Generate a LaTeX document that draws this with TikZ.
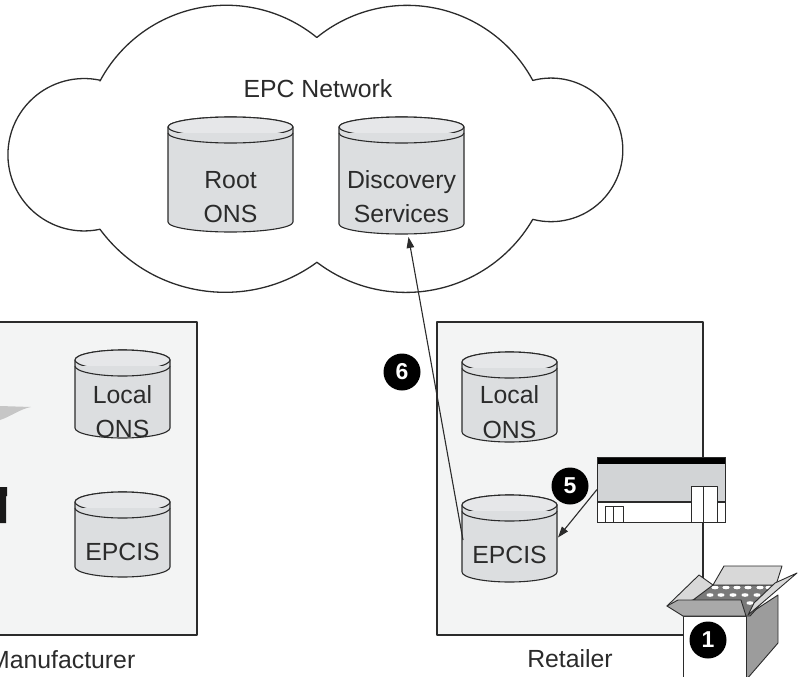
\documentclass[tikz,border=0pt]{standalone}
\usepackage{fontspec}
\setmainfont{Liberation Sans}
\usetikzlibrary{arrows.meta,calc}

\definecolor{ink}{HTML}{2B2B2B}
\definecolor{cylbody}{HTML}{DCDEE0}
\definecolor{cyltop}{HTML}{E6E7E9}
\definecolor{panel}{HTML}{F3F4F4}
\definecolor{flapA}{HTML}{D8D8D8}
\definecolor{flapB}{HTML}{A9A9A9}
\definecolor{sidegray}{HTML}{9C9C9C}
\definecolor{holegray}{HTML}{7A7A7A}
\definecolor{storegray}{HTML}{D2D4D6}
\definecolor{swooshgray}{HTML}{C6C6C6}

% database cylinder: #1 name, #2 left, #3 top, #4 right, #5 bottom
\newcommand\dbcyl[5]{%
  \pgfmathsetmacro\cylcx{(#2+#4)/2}%
  \pgfmathsetmacro\cylrx{(#4-#2)/2}%
  \pgfmathsetmacro\cylty{#3+10}%
  \pgfmathsetmacro\cylby{#5-10}%
  \pgfmathsetmacro\cylrim{#3+16}%
  \pgfmathsetmacro\cylcy{(#3+#5)/2}%
  \pgfmathsetmacro\cylw{#4-#2}%
  \pgfmathsetmacro\cylh{#5-#3}%
  \filldraw[cyl] (#2,\cylty) -- (#2,\cylby)
    arc[start angle=180,end angle=0,x radius=\cylrx,y radius=10]
    -- (#4,\cylty)
    arc[start angle=0,end angle=-180,x radius=\cylrx,y radius=10] -- cycle;
  \filldraw[cyl,fill=cyltop] (\cylcx,\cylty) ellipse[x radius=\cylrx,y radius=10];
  \draw[cyl] (#2,\cylrim) arc[start angle=180,end angle=0,x radius=\cylrx,y radius=10];
  \node[inner sep=0,outer sep=0,minimum width=\cylw pt,minimum height=\cylh pt] (#1) at (\cylcx,\cylcy) {};
}

\begin{document}
\begin{tikzpicture}[x=1pt,y=-1pt,line join=round,
  outline/.style={draw=ink,line width=1.3pt},
  cyl/.style={draw=ink,line width=1.1pt,fill=cylbody},
  panelbox/.style={draw=ink,line width=1.4pt,fill=panel,inner sep=0,outer sep=0},
  lbl/.style={font=\fontsize{24.8}{30}\selectfont,text=ink,inner sep=0,anchor=base},
  badge/.style={circle,fill=black,text=white,font=\fontsize{23}{23}\selectfont\bfseries,minimum size=37pt,inner sep=0},
  arr/.style={draw=ink,line width=1.1pt,-{Triangle[length=11pt,width=7.5pt]}},
  icon/.style={draw=ink,line width=0.9pt},
]
\useasboundingbox (0,0) rectangle (798,677);
\clip (0,0) rectangle (798,677);

% the EPC network cloud
\draw[outline] (100,81)
  arc[start angle=-151.9,end angle=-50.8,radius=143.2]
  arc[start angle=-129.2,end angle=-28.3,radius=142.8]
  arc[start angle=-104.7,end angle=104.7,radius=71.8]
  arc[start angle=30.1,end angle=127.4,radius=146.6]
  arc[start angle=53.8,end angle=143.5,radius=155.6]
  arc[start angle=78,end angle=282,radius=76.2] -- cycle;
\node[lbl] (epc) at (318,97) {EPC Network};

% company panels
\node[panelbox,minimum width=212pt,minimum height=313pt] (mf) at (91,478.5) {};
\node[panelbox,minimum width=266pt,minimum height=313pt] (rt) at (570,478.5) {};
\node[lbl,anchor=base east] (mflabel) at (135.5,668) {Manufacturer};
\node[lbl] (rtlabel) at (570,667) {Retailer};

% pieces of the factory icon at the left edge
\fill[swooshgray] (0,406) -- (31,407) .. controls (20,409) and (12,416) .. (0,420) -- cycle;
\fill[black!90] (0,487) -- (7,487) -- (7,496) -- (6,496) -- (6,523) -- (0,523) -- cycle;

% databases
\dbcyl{root}{168}{117}{293}{232}
\dbcyl{ds}{339}{117}{464}{234}
\dbcyl{mlons}{75}{350}{170}{438}
\dbcyl{mepcis}{75}{492}{170}{577}
\dbcyl{rlons}{462}{352}{557}{442}
\dbcyl{repcis}{462}{495}{557}{582}

\node[lbl] (root-a) at (230.5,188) {Root};
\node[lbl] (root-b) at (230.5,222) {ONS};
\node[lbl] (ds-a) at (401.5,188) {Discovery};
\node[lbl] (ds-b) at (401.5,222) {Services};
\node[lbl] (mlons-a) at (122.5,403) {Local};
\node[lbl] (mlons-b) at (122.5,437) {ONS};
\node[lbl] (mepcis-a) at (122.5,560) {EPCIS};
\node[lbl] (rlons-a) at (509.5,403) {Local};
\node[lbl] (rlons-b) at (509.5,438) {ONS};
\node[lbl] (repcis-a) at (509.5,563) {EPCIS};

% store with reader
\node[inner sep=0,outer sep=0,minimum width=128pt,minimum height=65pt] (sc) at (661,489.5) {};
\filldraw[icon,fill=white] (597,457) rectangle (725,522);
\fill[storegray] (597,464) rectangle (725,502);
\fill[black] (597,457) rectangle (725,464);
\draw[icon,line width=1.4pt] (597,502) -- (725,502);
\draw[icon] (605,506) rectangle (623,522) (613,506) -- (613,522);
\filldraw[icon,fill=white] (691,486) rectangle (717,522);
\draw[icon] (703,486) -- (703,522);
\draw[icon] (597,457) rectangle (725,522);

% messages
\draw[arr] ([shift={(1,1.5)}]repcis.west) -- ([shift={(7,3)}]ds.south);
\draw[arr] (sc.west) -- ([shift={(1,-1)}]repcis.east);

% tagged case
\filldraw[icon,fill=sidegray] (746,616) -- (778,595) -- (778,643) -- (746,680) -- cycle;
\filldraw[icon,fill=white] (683,616) rectangle (746,680);
\filldraw[icon,fill=holegray] (705,585) -- (778,585) -- (750,616) -- (683,616) -- cycle;
\foreach \dx in {715,726,737,748,760,769} \fill[white] (\dx,587.5) ellipse[x radius=3.6,y radius=1.8];
\foreach \dx in {710,721,733,745,757} \fill[white] (\dx,595) ellipse[x radius=3.6,y radius=1.8];
\fill[white] (750,603) ellipse[x radius=3.6,y radius=1.8];
\filldraw[icon,fill=flapA] (667,606) -- (699,575) -- (713,585) -- (693,600) -- cycle;
\filldraw[icon,fill=flapA] (713,585) -- (724,566) -- (782,566) -- (776,585) -- cycle;
\filldraw[icon,fill=flapA] (775,583) -- (797,573) -- (748,615) -- (754,603) -- cycle;
\filldraw[icon,fill=flapB] (667,606) -- (678,600) -- (741,600) -- (746,616) -- (683,616) -- cycle;

% step markers
\node[badge] (b6) at (402,372) {6};
\node[badge] (b5) at (570,486) {5};
\node[badge] (b1) at (708,640) {1};
\end{tikzpicture}
\end{document}
